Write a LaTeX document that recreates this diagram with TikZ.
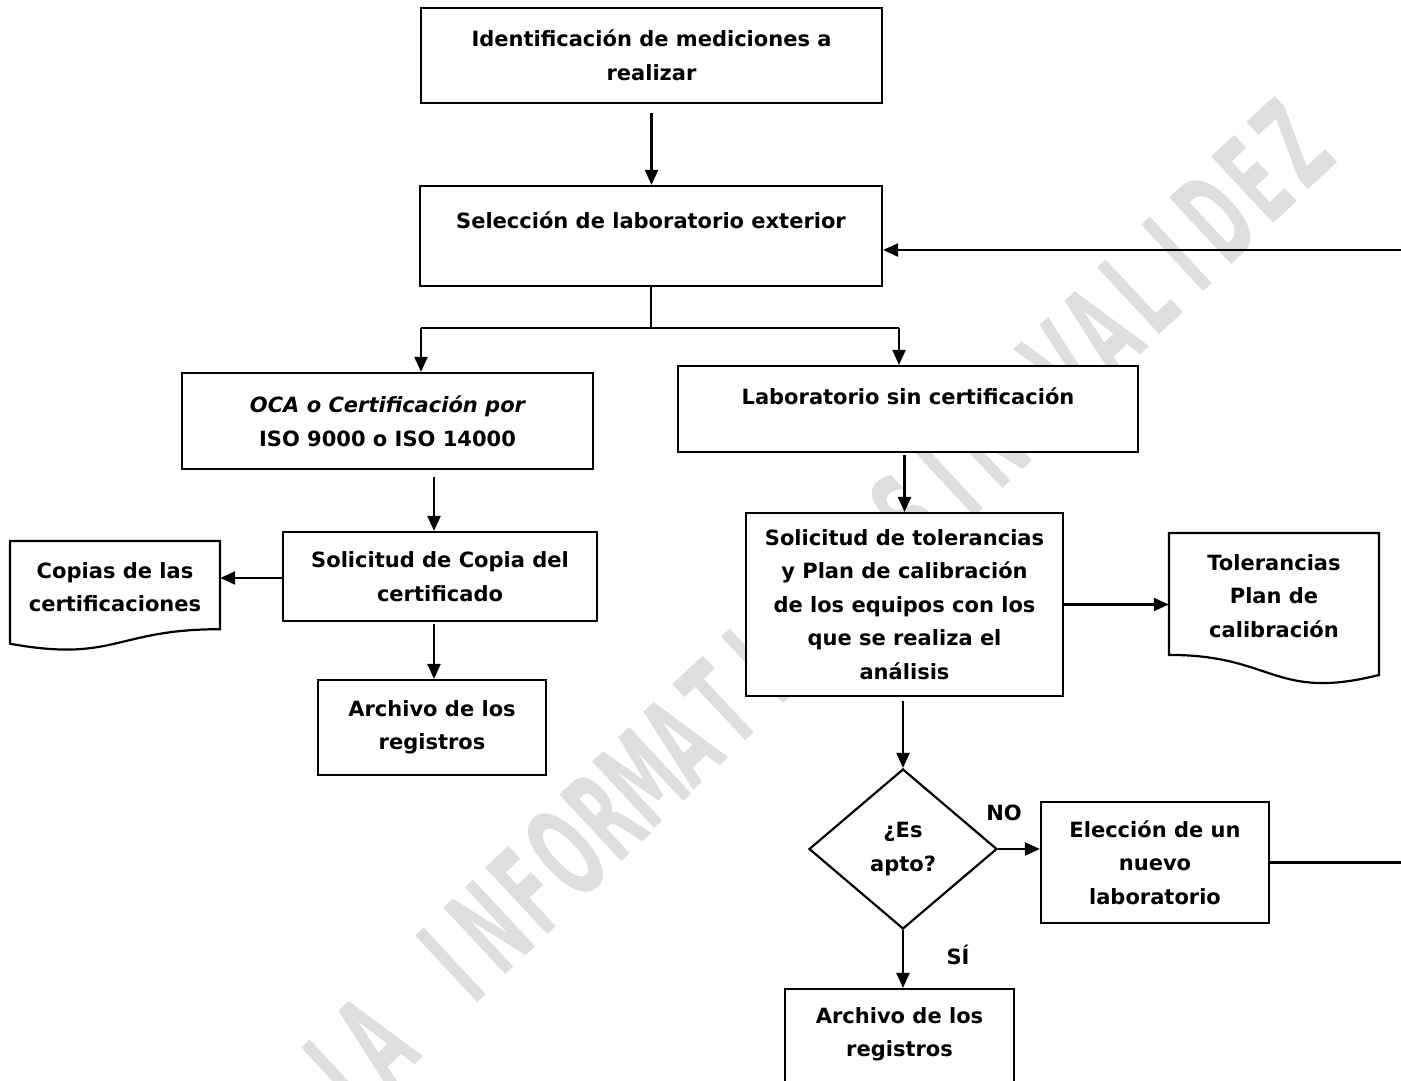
\documentclass[tikz,border=0pt]{standalone}
\usepackage{fontspec}
\usepackage{graphicx}
\setmainfont{DejaVu Sans}
\usetikzlibrary{shapes.geometric,arrows.meta}
\tikzset{
  txt/.style={font=\bfseries\fontsize{21}{33.5}\selectfont, align=center, inner sep=0pt},
  box/.style={draw, fill=white, line width=2.2pt, inner sep=0pt, txt},
  plain/.style={line width=2.2pt},
  arr/.style={line width=2.2pt, -{Triangle[length=15pt,width=13pt]}},
  docshape/.style={draw, fill=white, line width=2.2pt},
  wmark/.style={rotate=43, text=black!13, inner sep=0pt, font=\bfseries\fontsize{125}{125}\selectfont},
}
\begin{document}
\begin{tikzpicture}[x=1pt,y=-1pt]
\useasboundingbox (0,0) rectangle (1401,1081);
\clip (0,0) rectangle (1401,1081);
\fill[white] (0,0) rectangle (1401,1081);
% watermark, letter by letter
\foreach \ch/\i in {I/3,A/4,I/6,N/7,F/8,O/9,R/10,M/11,A/12,T/13,I/14,V/15,A/16,S/18,I/19,N/20,V/22,A/23,L/24,I/25,D/26,E/27,Z/28}
  \node[wmark] (wm\i) at ({375+(\i-4)*38.2},{1040-(\i-4)*37.4}) {\scalebox{0.5}[1]{\ch}};

% boxes
\node[box, minimum width=461pt, minimum height=95pt] (b1) at (651.5,55.5)
  {Identificación de mediciones a\\realizar};
\node[box, minimum width=462pt, minimum height=100pt] (b2) at (651,236) {};
\node[txt] (b2t) at (651,220) {Selección de laboratorio exterior};

\node[box, minimum width=411pt, minimum height=96pt] (oca) at (387.5,421)
  {{\itshape OCA o Certificación por}\\ISO 9000 o ISO 14000};
\node[box, minimum width=460pt, minimum height=86pt] (lab) at (908,409) {};
\node[txt] (labt) at (908,396) {Laboratorio sin certificación};

\node[box, minimum width=314pt, minimum height=89pt] (sol) at (440,576.5)
  {Solicitud de Copia del\\certificado};

% document Copias
\draw[docshape] (10,541) -- (220,541) -- (220,629.2)
  .. controls (115,629.2) and (115,662.8) .. (10,643.7) -- cycle;
\node[txt, minimum width=210pt, minimum height=90pt] (cop) at (115,587)
  {Copias de las\\certificaciones};

\node[box, minimum width=228pt, minimum height=95pt] (arc1) at (432,727.5)
  {Archivo de los\\registros};

\node[box, minimum width=317pt, minimum height=183pt] (tol) at (904.5,604.5)
  {Solicitud de tolerancias\\y Plan de calibración\\de los equipos con los\\que se realiza el\\análisis};

% document Tolerancias
\draw[docshape] (1169,533) -- (1379,533) -- (1379,675)
  .. controls (1274,701.3) and (1274,654.9) .. (1169,654.9) -- cycle;
\node[txt, minimum width=210pt, minimum height=122pt] (tdoc) at (1274,596)
  {Tolerancias\\Plan de\\calibración};

\node[diamond, draw, fill=white, line width=2.2pt, inner sep=0pt,
  minimum width=188pt, minimum height=160pt, txt] (dia) at (903,849)
  {¿Es\\apto?};

\node[box, minimum width=228pt, minimum height=121pt] (ele) at (1155,862.5)
  {Elección de un\\nuevo\\laboratorio};

\node[box, minimum width=229pt, minimum height=111pt] (arc2) at (899.5,1044.5) {};
\node[txt] (arc2t) at (899.5,1034.5) {Archivo de los\\registros};

\node[txt] (no) at (1004,813) {NO};
\node[txt] (si) at (958,955) {SÍ};

% connectors
\draw[arr, shorten <=9pt] (b1.south) -- (b2.north -| b1.south);
\coordinate (jl) at (421,328);
\coordinate (jr) at (899,328);
\draw[plain] (b2.south) -- (b2.south |- jl);
\draw[plain] (jl) -- (jr);
\draw[arr] (jl) -- (jl |- oca.north);
\draw[arr] (jr) -- (jr |- lab.north);

\coordinate (cx) at (434,0);
\draw[arr, shorten <=7pt] (oca.south -| cx) -- (sol.north -| cx);
\draw[arr, shorten <=2pt] (sol.south -| cx) -- (arc1.north -| cx);
\draw[arr] (sol.west |- 0,578) -- (cop.east |- 0,578);

\draw[arr, shorten <=2pt] (lab.south -| tol.north) -- (tol.north);
\draw[arr] (tol.east) -- (tol.east -| tdoc.west);
\draw[arr, shorten <=4pt] (tol.south -| dia.north) -- (dia.north);
\draw[arr] (dia.east) -- (dia.east -| ele.west);
\draw[arr] (dia.south) -- (arc2.north -| dia.south);

\coordinate (r1) at (1420,862.5);
\coordinate (r2) at (1420,250);
\draw[arr] (ele.east) -- (r1) -- (r2) -- (b2.east |- r2);
\end{tikzpicture}
\end{document}
